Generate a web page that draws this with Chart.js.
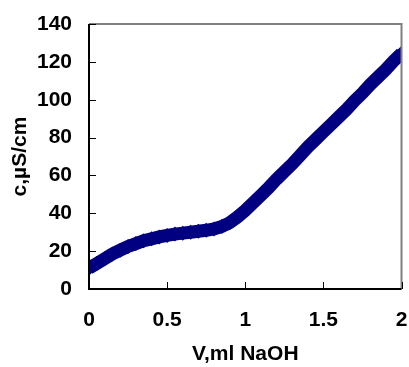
<!DOCTYPE html>
<html>
<head>
<meta charset="utf-8">
<script src="https://cdn.jsdelivr.net/npm/chart.js@4"></script>
<style>
html,body{margin:0;padding:0;background:#fff;}
#wrap{width:409px;height:367px;position:relative;}
</style>
</head>
<body>
<div id="wrap"><canvas id="c" width="409" height="367"></canvas></div>
<script>
const volumes = [0,0.05,0.1,0.15,0.2,0.25,0.3,0.35,0.4,0.45,0.5,0.55,0.6,0.65,0.7,0.75,0.8,0.85,0.9,0.95,1.0,1.05,1.1,1.15,1.2,1.25,1.3,1.35,1.4,1.45,1.5,1.55,1.6,1.65,1.7,1.75,1.8,1.85,1.9,1.95,2.0];
const conductivity = [11,13.5,16,18.5,20.5,22.5,24,25.5,26.5,27.5,28.3,29,29.5,30,30.5,31,31.7,33,35,38,41.5,45.5,49.5,53.5,58,62,66,70.5,75,79,83,87,91,95,99.5,103.5,108,112,116,120.5,124.5];
const yTicks = [0,20,40,60,80,100,120,140];
const xTicks = [0,0.5,1,1.5,2];
const xTitle = 'V,ml NaOH';
const yTitle = 'c,µS/cm';

const framePlugin = {
  id: 'frame',
  afterDraw(chart) {
    const {ctx, chartArea: a, scales} = chart;
    ctx.save();
    ctx.strokeStyle = '#808080';
    ctx.lineWidth = 2;
    ctx.beginPath();
    ctx.moveTo(a.left, a.top); ctx.lineTo(a.right, a.top); ctx.lineTo(a.right, a.bottom);
    ctx.stroke();
    ctx.strokeStyle = '#000';
    ctx.lineWidth = 2;
    ctx.beginPath();
    ctx.moveTo(a.left, a.top); ctx.lineTo(a.left, a.bottom); ctx.lineTo(a.right, a.bottom);
    ctx.stroke();
    ctx.lineWidth = 1;
    ctx.beginPath();
    yTicks.forEach(v => {
      const y = Math.round(scales.y.getPixelForValue(v)) + 0.5;
      ctx.moveTo(a.left, y); ctx.lineTo(a.left + 7, y);
    });
    xTicks.forEach(v => {
      const x = Math.round(scales.x.getPixelForValue(v)) + 0.5;
      ctx.moveTo(x, a.bottom); ctx.lineTo(x, a.bottom - 7);
    });
    ctx.stroke();
    ctx.restore();
  }
};

const font = {family: 'Liberation Sans, Arial, sans-serif', size: 21, weight: 'bold'};
const zeroPad = s => { s.paddingTop = 0; s.paddingBottom = 0; s.paddingLeft = 0; s.paddingRight = 0; };

new Chart(document.getElementById('c'), {
  type: 'scatter',
  data: {
    datasets: [{
      data: volumes.map((v, i) => ({x: v, y: conductivity[i]})),
      showLine: true,
      borderColor: '#000080',
      borderWidth: 13,
      backgroundColor: '#000080',
      pointStyle: 'rectRot',
      pointRadius: 7.5,
      pointBorderWidth: 0,
      pointBackgroundColor: '#000080',
      tension: 0
    }]
  },
  plugins: [framePlugin],
  options: {
    responsive: false,
    animation: false,
    events: [],
    layout: {padding: {left: 0, top: 24, right: 7, bottom: 0}},
    plugins: {legend: {display: false}, tooltip: {enabled: false}},
    scales: {
      x: {
        type: 'linear', min: 0, max: 2,
        afterBuildTicks: s => { s.ticks = xTicks.map(v => ({value: v})); },
        afterFit: s => { s.height = 78; zeroPad(s); },
        grid: {display: false, drawTicks: false},
        border: {display: false},
        ticks: {font: font, color: '#000', padding: 19, maxRotation: 0,
                callback: v => String(v)},
        title: {display: true, text: xTitle, font: font, color: '#000', padding: {top: 0, bottom: 0}}
      },
      y: {
        type: 'linear', min: 0, max: 140,
        afterBuildTicks: s => { s.ticks = yTicks.map(v => ({value: v})); },
        afterFit: s => { s.width = 89; zeroPad(s); },
        grid: {display: false, drawTicks: false},
        border: {display: false},
        ticks: {font: font, color: '#000', padding: 17},
        title: {display: true, text: yTitle, font: font, color: '#000', padding: {top: 8, bottom: 8}}
      }
    }
  }
});
</script>
</body>
</html>
